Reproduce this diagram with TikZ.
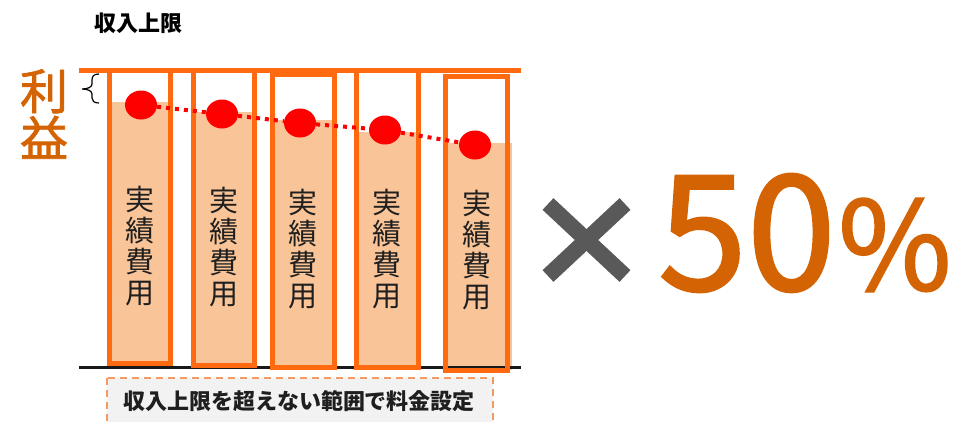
\documentclass[tikz,border=0pt]{standalone}
\usepackage{fontspec}
\usetikzlibrary{shapes.geometric}
\newfontfamily\cjk{Noto Sans CJK JP}
\newfontfamily\cjkmed{Noto Sans CJK JP}[FakeBold=1.6]
\definecolor{txtorange}{HTML}{D46304}
\definecolor{barorange}{HTML}{FF6A10}
\definecolor{barfill}{HTML}{F9C497}
\definecolor{xgray}{HTML}{595959}
\definecolor{dashorange}{HTML}{F29A64}
\definecolor{boxgray}{HTML}{F2F2F2}
\definecolor{inktext}{HTML}{1F1F1F}
\begin{document}
\begin{tikzpicture}[x=1pt,y=-1pt,
  barline/.style={draw=barorange, line width=5pt},
  reddot/.style={ellipse, fill=red, minimum width=32pt, minimum height=29pt, inner sep=0pt},
  dotline/.style={red, line width=4pt, dash pattern=on 4pt off 5pt},
  bartext/.style={font=\cjk\fontsize{29}{31}\selectfont, text=inktext, align=center, inner sep=0pt},
  crossline/.style={xgray, line width=16pt, line cap=butt}
]
\useasboundingbox (0,0) rectangle (962,421);
% title
\node[font=\cjk\bfseries\fontsize{22}{22}\selectfont, inner sep=0pt] (title) at (138,23) {収入上限};
% profit label
\node[font=\cjkmed\fontsize{48}{47}\selectfont, text=txtorange, align=center, inner sep=0pt] (profit) at (44,114) {利\\益};
% brace
\draw[black, line width=1.2pt] (99,74) .. controls (94,74) and (92,76) .. (92,80) -- (92,84) .. controls (92,87) and (88,89) .. (82,89) .. controls (88,89) and (92,91) .. (92,94) -- (92,98) .. controls (92,101) and (94,103) .. (99,103);
% bottom dashed box
\draw[dashorange, line width=1.6pt, dash pattern=on 7pt off 5pt, fill=boxgray] (107,378) rectangle (493,440);
\node[font=\cjk\bfseries\fontsize{22}{22}\selectfont, text=inktext, inner sep=0pt] (note) at (299,401) {収入上限を超えない範囲で料金設定};
% fills
\fill[barfill] (112,102) rectangle (168,363);
\fill[barfill] (196,112) rectangle (252,365);
\fill[barfill] (275,120) rectangle (332,367);
\fill[barfill] (359,132) rectangle (416,367);
\fill[barfill] (448,143) rectangle (512,370);
% top line and baseline
\draw[barorange, line width=5pt] (79,70) -- (521,70);
\draw[black!90, line width=3pt] (79,367.5) -- (521,367.5);
% bars
\draw[barline] (109.5,70) rectangle (170.5,363);
\draw[barline] (193.5,70) rectangle (254.5,365);
\draw[barline] (272.5,74) rectangle (334.5,367);
\draw[barline] (356.5,70) rectangle (418.5,367);
\draw[barline] (445.5,76) rectangle (507.5,370);
% bar texts
\node[bartext] (t1) at (140,246) {実\\績\\費\\用};
\node[bartext] (t2) at (224,247) {実\\績\\費\\用};
\node[bartext] (t3) at (302.5,249) {実\\績\\費\\用};
\node[bartext] (t4) at (387,249) {実\\績\\費\\用};
\node[bartext] (t5) at (476.5,250) {実\\績\\費\\用};
% dots
\node[reddot] (d1) at (141,105) {};
\node[reddot] (d2) at (222,114) {};
\node[reddot] (d3) at (300,123) {};
\node[reddot] (d4) at (385,130) {};
\node[reddot] (d5) at (475,145) {};
\draw[dotline] (d1) -- (d2);
\draw[dotline] (d2) -- (d3);
\draw[dotline] (d3) -- (d4);
\draw[dotline] (d4) -- (d5);
% cross
\draw[crossline] (548,204) -- (625,276);
\draw[crossline] (625,204) -- (548,276);
% 50%
\node[font=\cjkmed\fontsize{160}{160}\selectfont, text=txtorange, anchor=base west, inner sep=0pt] (fifty) at (658,290) {50};
\node[font=\cjkmed\fontsize{123}{123}\selectfont, text=txtorange, anchor=base west, inner sep=0pt] (pct) at (838,290) {\%};
\end{tikzpicture}
\end{document}
